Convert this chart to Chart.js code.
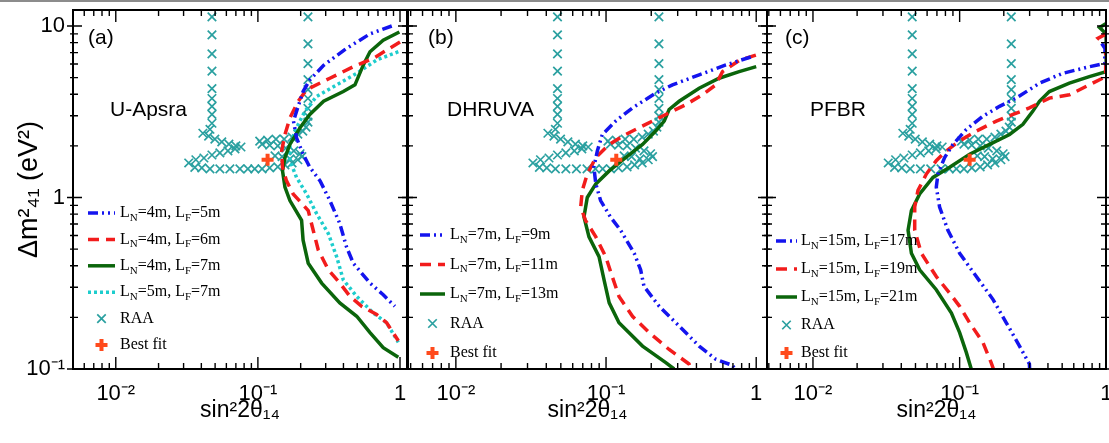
<!DOCTYPE html>
<html lang="en">
<head>
    <meta charset="UTF-8">
    <title>Sensitivity contours: U-Apsra, DHRUVA, PFBR</title>
    <script src="https://cdn.jsdelivr.net/npm/chart.js"></script>
    <style>
        body {
            margin: 0;
            background: #fff;
            overflow: hidden;
        }
        .figure {
            position: relative;
            width: 1109px;
            height: 443px;
        }
        .topline {
            position: absolute;
            left: 0; top: 0;
            width: 1109px; height: 2px;
            background: #8c8c8c;
            z-index: 5;
        }
        .panel {
            position: absolute;
            top: 0;
            height: 443px;
        }
        #boxA { left: 0; width: 420px; }
        #boxB { left: 395px; width: 385px; }
        #boxC { left: 754px; width: 366px; }
    </style>
</head>
<body>
<div class="figure">
    <div class="topline"></div>
    <div class="panel" id="boxA"><canvas id="panelA"></canvas></div>
    <div class="panel" id="boxB"><canvas id="panelB"></canvas></div>
    <div class="panel" id="boxC"><canvas id="panelC"></canvas></div>
</div>

<script>
    // axis ticks
    const xTickVals = [0.01, 0.1, 1];
    const xTickLabels = ['10⁻²', '10⁻¹', '1'];
    const yTickVals = [0.1, 1, 10];
    const yTickLabels = ['10⁻¹', '1', '10'];

    // (a) U-Apsra
    const aBlue_x = [0.875, 0.615, 0.42, 0.29, 0.232, 0.208, 0.187, 0.178, 0.187, 0.208, 0.232, 0.274, 0.321, 0.377, 0.42, 0.469, 0.615, 0.762, 0.92];
    const aBlue_y = [10.0, 9.0, 7.4, 5.9, 4.85, 4.15, 3.18, 2.79, 2.23, 1.79, 1.50, 1.25, 0.96, 0.705, 0.516, 0.414, 0.317, 0.271, 0.232];
    const aRed_x = [1.0, 0.648, 0.469, 0.321, 0.22, 0.192, 0.168, 0.155, 0.147, 0.149, 0.159, 0.177, 0.226, 0.245, 0.266, 0.313, 0.377, 0.445, 0.537, 0.685, 0.805, 0.973];
    const aRed_y = [8.08, 6.47, 5.79, 4.96, 4.25, 3.64, 2.91, 2.33, 1.87, 1.50, 1.25, 1.05, 0.84, 0.644, 0.494, 0.379, 0.317, 0.265, 0.232, 0.208, 0.186, 0.146];
    const aGreen_x = [0.99, 0.762, 0.615, 0.552, 0.482, 0.399, 0.29, 0.232, 0.198, 0.168, 0.155, 0.149, 0.155, 0.168, 0.203, 0.208, 0.226, 0.281, 0.377, 0.496, 0.615, 0.762, 0.973];
    const aGreen_y = [9.23, 8.27, 7.08, 5.93, 4.54, 4.15, 3.64, 3.05, 2.55, 2.04, 1.71, 1.43, 1.15, 0.96, 0.736, 0.564, 0.414, 0.317, 0.243, 0.203, 0.163, 0.133, 0.117];
    const aCyan_x = [0.973, 0.685, 0.496, 0.358, 0.259, 0.214, 0.187, 0.168, 0.168, 0.187, 0.22, 0.259, 0.313, 0.358, 0.399, 0.496, 0.648, 0.805, 0.973];
    const aCyan_y = [7.08, 6.34, 5.30, 4.54, 3.89, 3.18, 2.55, 2.04, 1.64, 1.31, 1.05, 0.805, 0.616, 0.452, 0.331, 0.265, 0.212, 0.186, 0.143];

    // (b) DHRUVA
    const bBlue_x = [0.92, 0.628, 0.417, 0.277, 0.214, 0.15, 0.116, 0.0945, 0.0875, 0.083, 0.0855, 0.092, 0.107, 0.125, 0.154, 0.17, 0.179, 0.226, 0.307, 0.417, 0.538, 0.695, 0.72];
    const bBlue_y = [6.6, 5.93, 5.19, 4.54, 4.06, 3.33, 2.79, 2.33, 1.87, 1.50, 1.2, 0.96, 0.77, 0.644, 0.473, 0.379, 0.303, 0.232, 0.178, 0.136, 0.114, 0.105, 0.1];
    const bRed_x = [0.995, 0.77, 0.596, 0.538, 0.438, 0.34, 0.25, 0.184, 0.135, 0.105, 0.0855, 0.075, 0.0695, 0.0678, 0.073, 0.0855, 0.0995, 0.11, 0.122, 0.15, 0.194, 0.263, 0.357, 0.37];
    const bRed_y = [6.77, 6.3, 5.42, 4.54, 3.97, 3.48, 3.05, 2.67, 2.33, 2.04, 1.71, 1.37, 1.10, 0.88, 0.736, 0.59, 0.452, 0.346, 0.265, 0.203, 0.163, 0.13, 0.107, 0.1];
    const bGreen_x = [1.0, 0.77, 0.566, 0.417, 0.307, 0.263, 0.244, 0.214, 0.175, 0.135, 0.105, 0.0855, 0.075, 0.0713, 0.077, 0.0898, 0.097, 0.105, 0.122, 0.175, 0.25, 0.284];
    const bGreen_y = [5.8, 5.42, 4.96, 4.34, 3.64, 3.26, 2.79, 2.44, 2.04, 1.71, 1.43, 1.2, 1.0, 0.77, 0.59, 0.452, 0.331, 0.243, 0.186, 0.136, 0.109, 0.1];

    // (c) PFBR
    const cBlue_x = [0.93, 0.98, 0.975, 0.766, 0.505, 0.35, 0.243, 0.187, 0.144, 0.111, 0.09, 0.079, 0.0711, 0.0693, 0.073, 0.0832, 0.1, 0.13, 0.169, 0.208, 0.256, 0.299, 0.30];
    const cBlue_y = [7.9, 7.4, 6.05, 5.79, 5.30, 4.64, 3.80, 3.40, 2.98, 2.49, 2.04, 1.71, 1.37, 1.15, 0.88, 0.644, 0.473, 0.346, 0.254, 0.186, 0.136, 0.107, 0.1];
    const cRed_x = [1.0, 0.88, 0.95, 0.99, 0.99, 0.766, 0.56, 0.409, 0.299, 0.231, 0.178, 0.13, 0.1, 0.0811, 0.0693, 0.0593, 0.052, 0.0494, 0.0494, 0.0548, 0.0693, 0.0855, 0.1, 0.117, 0.144, 0.164, 0.17];
    const cRed_y = [9.0, 8.5, 8.0, 7.5, 5.07, 4.54, 3.97, 3.80, 3.33, 3.05, 2.79, 2.44, 2.14, 1.87, 1.64, 1.37, 1.1, 0.88, 0.644, 0.473, 0.346, 0.277, 0.232, 0.186, 0.143, 0.109, 0.1];
    const cGreen_x = [0.99, 0.9, 0.96, 1.0, 1.0, 0.995, 0.766, 0.56, 0.409, 0.35, 0.315, 0.27, 0.219, 0.16, 0.117, 0.0855, 0.0658, 0.0534, 0.0469, 0.0445, 0.0469, 0.0534, 0.0693, 0.0879, 0.1, 0.111, 0.12];
    const cGreen_y = [10.3, 9.8, 9.3, 8.6, 6.5, 5.42, 5.07, 4.64, 4.15, 3.64, 3.18, 2.67, 2.33, 2.04, 1.79, 1.50, 1.31, 1.05, 0.84, 0.644, 0.473, 0.379, 0.29, 0.212, 0.163, 0.125, 0.1];

    // RAA allowed region (same in every panel)
    const raa_x = [0.0475, 0.0475, 0.0475, 0.0475, 0.0475, 0.0475, 0.0475, 0.0475, 0.0475, 0.046,
        0.041, 0.045, 0.0498, 0.0557, 0.0625, 0.070, 0.076,
        0.069, 0.0615, 0.054, 0.0475, 0.0417, 0.0366, 0.0326,
        0.036, 0.0403, 0.046, 0.054, 0.0635, 0.0747, 0.085, 0.095, 0.107, 0.121, 0.138, 0.155, 0.174, 0.191, 0.204,
        0.168, 0.148, 0.132,
        0.107, 0.121, 0.138, 0.157, 0.179, 0.198,
        0.103, 0.117, 0.134, 0.153, 0.174, 0.191, 0.207, 0.218,
        0.225, 0.225, 0.225, 0.225, 0.225, 0.225, 0.225, 0.225, 0.225];
    const raa_y = [11.3, 8.88, 6.88, 5.46, 4.32, 3.78, 3.40, 3.05, 2.71, 2.50,
        2.37, 2.28, 2.19, 2.11, 2.05, 2.0, 1.97,
        1.92, 1.87, 1.82, 1.77, 1.70, 1.66, 1.59,
        1.50, 1.49, 1.47, 1.47, 1.47, 1.47, 1.47, 1.47, 1.47, 1.49, 1.51, 1.55, 1.59, 1.66, 1.73,
        1.68, 1.73, 1.75,
        2.05, 2.02, 2.0, 1.94, 1.87, 1.80,
        2.13, 2.16, 2.19, 2.19, 2.25, 2.34, 2.44, 2.57,
        2.75, 2.98, 3.31, 3.78, 4.26, 4.87, 6.03, 7.86, 11.3];
    const bestFit_x = [0.117];
    const bestFit_y = [1.66];

    const legendA = ['L_{N}=4m, L_{F}=5m', 'L_{N}=4m, L_{F}=6m', 'L_{N}=4m, L_{F}=7m', 'L_{N}=5m, L_{F}=7m'];
    const legendB = ['L_{N}=7m, L_{F}=9m', 'L_{N}=7m, L_{F}=11m', 'L_{N}=7m, L_{F}=13m'];
    const legendC = ['L_{N}=15m, L_{F}=17m', 'L_{N}=15m, L_{F}=19m', 'L_{N}=15m, L_{F}=21m'];

    const BLUE = '#1414ee', RED = '#f21c1c', GREEN = '#0b650b', CYAN = '#1dcdcd';
    const RAA_COLOR = '#2aa0a0', FIT_COLOR = '#ff4a1c';
    const SANS = '"Liberation Sans", Arial, sans-serif';
    const SERIF = '"Liberation Serif", "Times New Roman", serif';

    const pts = (xs, ys) => xs.map((x, i) => ({ x: x, y: ys[i] }));

    function curve(label, xs, ys, color, dash) {
        return {
            legendText: label,
            data: pts(xs, ys),
            showLine: true,
            borderColor: color,
            backgroundColor: color,
            borderWidth: 3.5,
            borderDash: dash,
            borderCapStyle: 'butt',
            pointRadius: 0,
            tension: 0,
            order: 2
        };
    }

    function markers() {
        return [
            {
                legendText: 'RAA',
                data: pts(raa_x, raa_y),
                pointStyle: 'crossRot',
                pointRadius: 6,
                pointBorderWidth: 1.7,
                borderColor: RAA_COLOR,
                backgroundColor: RAA_COLOR,
                order: 3
            },
            {
                legendText: 'Best fit',
                data: pts(bestFit_x, bestFit_y),
                pointStyle: 'cross',
                pointRadius: 6,
                pointBorderWidth: 4,
                borderColor: FIT_COLOR,
                backgroundColor: FIT_COLOR,
                order: 1
            }
        ];
    }

    function logTickValues(min, max) {
        const out = [];
        for (let e = Math.floor(Math.log10(min)); e <= Math.ceil(Math.log10(max)); e++) {
            for (let m = 1; m <= 9; m++) {
                const v = m * Math.pow(10, e);
                if (v >= min * 0.999 && v <= max * 1.001) out.push({ v: v, major: m === 1 });
            }
        }
        return out;
    }

    // frame with inward ticks on all four sides (ROOT style)
    const framePlugin = {
        id: 'frame',
        afterDatasetsDraw(chart) {
            const { ctx, chartArea: a, scales: { x, y } } = chart;
            ctx.save();
            ctx.strokeStyle = '#000';
            ctx.lineWidth = 1.4;
            ctx.setLineDash([]);
            ctx.beginPath();
            logTickValues(x.min, x.max).forEach(t => {
                const px = x.getPixelForValue(t.v);
                const len = t.major ? 12 : 6;
                ctx.moveTo(px, a.bottom); ctx.lineTo(px, a.bottom - len);
                ctx.moveTo(px, a.top); ctx.lineTo(px, a.top + len);
            });
            logTickValues(y.min, y.max).forEach(t => {
                const py = y.getPixelForValue(t.v);
                const len = t.major ? 9 : 5;
                const out = t.major ? 6 : 3;
                ctx.moveTo(a.left - out, py); ctx.lineTo(a.left + len, py);
                ctx.moveTo(a.right + out, py); ctx.lineTo(a.right - len, py);
            });
            ctx.stroke();
            ctx.lineWidth = 2;
            ctx.strokeRect(a.left, a.top, a.right - a.left, a.bottom - a.top);
            ctx.restore();
        }
    };

    function drawRichText(ctx, text, x, y) {
        // parts written as _{..} are subscripts
        const parts = text.split(/_\{([^}]*)\}/);
        parts.forEach((p, i) => {
            if (!p) return;
            const sub = i % 2 === 1;
            ctx.font = (sub ? '11px ' : '16px ') + SERIF;
            ctx.fillText(p, x, y + (sub ? 5 : 0));
            x += ctx.measureText(p).width;
        });
    }

    function drawMarker(ctx, style, x, y, r, color, lw) {
        ctx.strokeStyle = color;
        ctx.lineWidth = lw;
        ctx.setLineDash([]);
        ctx.beginPath();
        if (style === 'crossRot') {
            const d = r * 0.707;
            ctx.moveTo(x - d, y - d); ctx.lineTo(x + d, y + d);
            ctx.moveTo(x - d, y + d); ctx.lineTo(x + d, y - d);
        } else {
            ctx.moveTo(x - r, y); ctx.lineTo(x + r, y);
            ctx.moveTo(x, y - r); ctx.lineTo(x, y + r);
        }
        ctx.stroke();
    }

    // panel tag, reactor name and the in-frame legend
    const legendPlugin = {
        id: 'panelLegend',
        afterDraw(chart, args, opts) {
            const { ctx, chartArea: a } = chart;
            ctx.save();
            ctx.fillStyle = '#000';
            ctx.textBaseline = 'middle';
            ctx.textAlign = 'left';
            ctx.font = '21px ' + SANS;
            ctx.fillText(opts.tag, a.left + opts.tagX, a.top + 28);
            ctx.fillText(opts.name, a.left + opts.nameX, a.top + 100);

            let row = 0;
            chart.data.datasets.forEach(ds => {
                if (!ds.legendText) return;
                const yy = a.top + opts.top + row * opts.step;
                if (ds.showLine) {
                    ctx.strokeStyle = ds.borderColor;
                    ctx.lineWidth = ds.borderWidth;
                    ctx.lineCap = 'butt';
                    ctx.setLineDash(ds.borderDash || []);
                    ctx.beginPath();
                    ctx.moveTo(a.left + opts.x0, yy);
                    ctx.lineTo(a.left + opts.x1, yy);
                    ctx.stroke();
                } else {
                    const cx = a.left + (opts.x0 + opts.x1) / 2;
                    drawMarker(ctx, ds.pointStyle, cx, yy, ds.pointRadius, ds.borderColor, ds.pointBorderWidth);
                }
                ctx.fillStyle = '#000';
                drawRichText(ctx, ds.legendText, a.left + opts.tx, yy);
                row++;
            });
            ctx.restore();
        }
    };

    function xAxis(min, max) {
        return {
            type: 'logarithmic',
            min: min,
            max: max,
            afterBuildTicks: s => { s.ticks = xTickVals.map(v => ({ value: v })); },
            afterFit: s => {
                s.height = 74;
                s.paddingLeft = 0;
                s.paddingRight = 0;
            },
            grid: { display: false, drawTicks: false },
            border: { display: false },
            ticks: {
                callback: (v, i) => xTickLabels[i],
                autoSkip: false,
                maxRotation: 0,
                padding: 12,
                color: '#000',
                font: { family: SANS, size: 22 }
            },
            title: {
                display: true,
                text: 'sin²2θ₁₄',
                color: '#000',
                font: { family: SANS, size: 23 },
                padding: { top: 0, bottom: 19 }
            }
        };
    }

    function yAxis(show) {
        if (!show) return { type: 'logarithmic', min: 0.1, max: 12.4, display: false };
        return {
            type: 'logarithmic',
            min: 0.1,
            max: 12.4,
            afterBuildTicks: s => { s.ticks = yTickVals.map(v => ({ value: v })); },
            afterFit: s => {
                s.width = 73;
                s.paddingTop = 0;
                s.paddingBottom = 0;
            },
            grid: { display: false, drawTicks: false },
            border: { display: false },
            ticks: {
                callback: (v, i) => yTickLabels[i],
                autoSkip: false,
                padding: 8,
                color: '#000',
                font: { family: SANS, size: 22 }
            },
            title: {
                display: true,
                text: 'Δm²₄₁ (eV²)',
                color: '#000',
                font: { family: SANS, size: 27 },
                padding: { top: 13, bottom: 0 }
            }
        };
    }

    function makePanel(id, cfg) {
        return new Chart(document.getElementById(id), {
            type: 'scatter',
            data: { datasets: cfg.datasets },
            options: {
                responsive: true,
                maintainAspectRatio: false,
                animation: false,
                events: [],
                layout: { padding: cfg.padding },
                scales: { x: xAxis(cfg.xMin, cfg.xMax), y: yAxis(cfg.showY) },
                plugins: {
                    legend: { display: false },
                    tooltip: { enabled: false },
                    panelLegend: cfg.legend
                }
            },
            plugins: [framePlugin, legendPlugin]
        });
    }

    makePanel('panelA', {
        xMin: 0.005, xMax: 1.12, showY: true,
        padding: { left: 0, top: 7, right: 13, bottom: 0 },
        datasets: [
            curve(legendA[0], aBlue_x, aBlue_y, BLUE, [10, 4, 2, 4, 2, 4]),
            curve(legendA[1], aRed_x, aRed_y, RED, [11, 7]),
            curve(legendA[2], aGreen_x, aGreen_y, GREEN, []),
            curve(legendA[3], aCyan_x, aCyan_y, CYAN, [3, 3]),
            ...markers()
        ],
        legend: { tag: '(a)', tagX: 15, name: 'U-Apsra', nameX: 37, top: 203, step: 26.4, x0: 15, x1: 42, tx: 47 }
    });

    makePanel('panelB', {
        xMin: 0.0048, xMax: 1.18, showY: false,
        padding: { left: 13, top: 7, right: 13, bottom: 0 },
        datasets: [
            curve(legendB[0], bBlue_x, bBlue_y, BLUE, [10, 4, 2, 4, 2, 4]),
            curve(legendB[1], bRed_x, bRed_y, RED, [11, 7]),
            curve(legendB[2], bGreen_x, bGreen_y, GREEN, []),
            ...markers()
        ],
        legend: { tag: '(b)', tagX: 20, name: 'DHRUVA', nameX: 39, top: 225, step: 29.5, x0: 12, x1: 37, tx: 42 }
    });

    makePanel('panelC', {
        xMin: 0.00486, xMax: 0.995, showY: false,
        padding: { left: 13, top: 7, right: 14, bottom: 0 },
        datasets: [
            curve(legendC[0], cBlue_x, cBlue_y, BLUE, [10, 4, 2, 4, 2, 4]),
            curve(legendC[1], cRed_x, cRed_y, RED, [11, 7]),
            curve(legendC[2], cGreen_x, cGreen_y, GREEN, []),
            ...markers()
        ],
        legend: { tag: '(c)', tagX: 18, name: 'PFBR', nameX: 43, top: 231, step: 28, x0: 9, x1: 30, tx: 34 }
    });
</script>
</body>
</html>
